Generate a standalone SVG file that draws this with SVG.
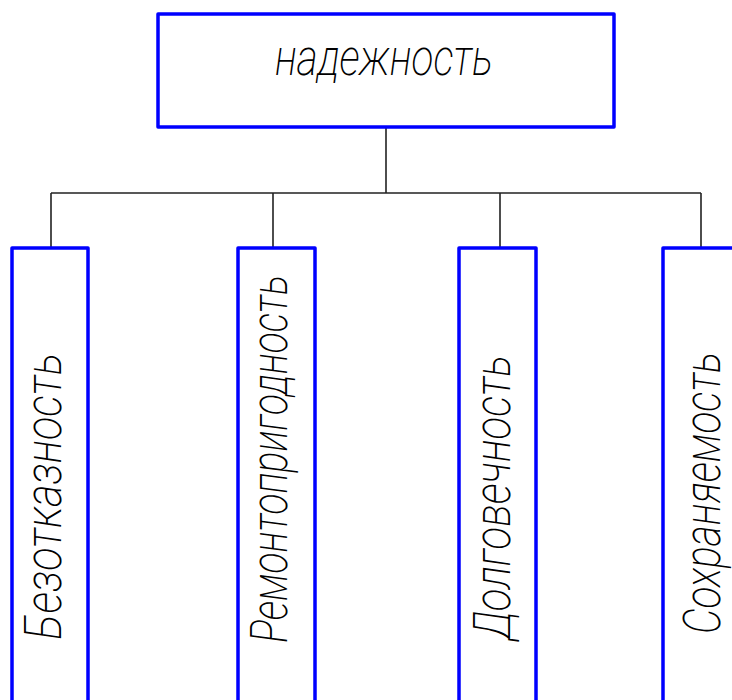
<svg xmlns="http://www.w3.org/2000/svg" width="732" height="700" viewBox="0 0 732 700">
<style>
.box{fill:#fff;stroke:#0000ff;stroke-width:3.5;stroke-linejoin:round}
.con{fill:none;stroke:#222;stroke-width:1.6}
.t{font-family:Roboto,"Liberation Sans Narrow","Liberation Sans",sans-serif;font-weight:200;font-style:italic;font-size:52px;fill:#000}
</style>
<rect width="732" height="700" fill="#fff"/>
<g id="connectors">
<path class="con" d="M386 127 V193 M51 193 H701 M51 193 V248 M273 193 V248 M500 193 V248 M701 193 V248"/>
</g>
<g id="n-reliability">
<rect class="box" x="158" y="14" width="456" height="113"/>
<text class="t" x="275" y="75" textLength="218" lengthAdjust="spacingAndGlyphs">надежность</text>
</g>
<g id="n-fail">
<rect class="box" x="12" y="248" width="76" height="470"/>
<text class="t" transform="translate(61,640) rotate(-90)" textLength="287" lengthAdjust="spacingAndGlyphs">Безотказность</text>
</g>
<g id="n-repair">
<rect class="box" x="238" y="248" width="77" height="470"/>
<text class="t" transform="translate(287,643) rotate(-90)" textLength="368" lengthAdjust="spacingAndGlyphs">Ремонтопригодность</text>
</g>
<g id="n-durability">
<rect class="box" x="459" y="248" width="77" height="470"/>
<text class="t" transform="translate(510,640) rotate(-90)" textLength="285" lengthAdjust="spacingAndGlyphs">Долговечность</text>
</g>
<g id="n-storage">
<rect class="box" x="663" y="248" width="80" height="470"/>
<text class="t" transform="translate(720,634) rotate(-90)" textLength="282" lengthAdjust="spacingAndGlyphs">Сохраняемость</text>
</g>
</svg>
